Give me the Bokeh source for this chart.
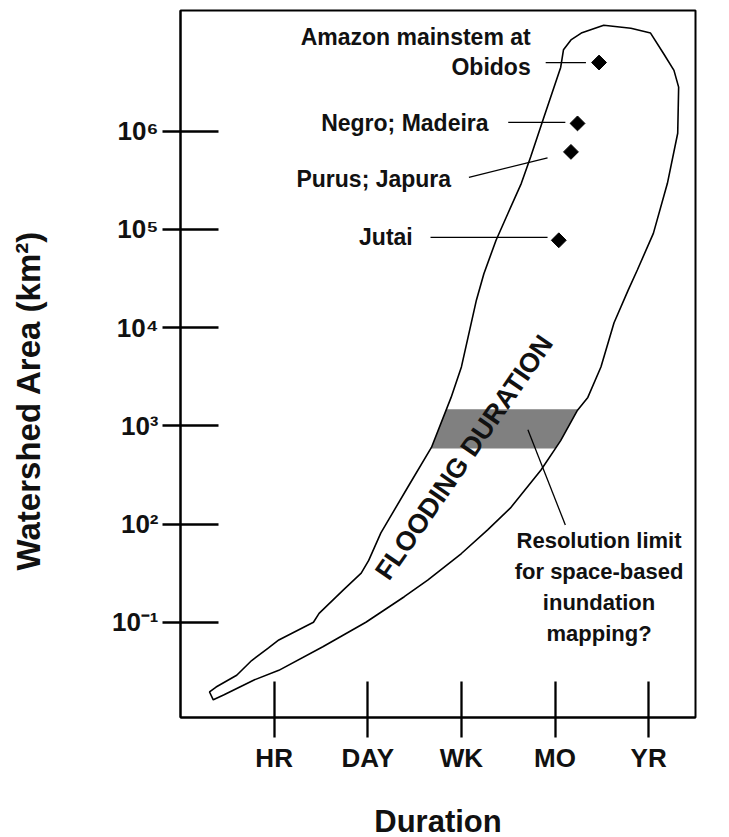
import numpy as np
from bokeh.plotting import figure
from bokeh.layouts import row
from bokeh.models import Range1d, FixedTicker, ColumnDataSource
from bokeh.core.properties import value
from bokeh.embed import file_html
from bokeh.resources import INLINE

# ---- axis categories (duration index, area decade index) ----
duration_ticks = [1, 2, 3, 4, 5]
duration_labels = ["HR", "DAY", "WK", "MO", "YR"]
area_ticks = [1, 2, 3, 4, 5, 6]
area_labels = ["10\u207b\u00b9", "10\u00b2", "10\u00b3", "10\u2074", "10\u2075", "10\u2076"]

# ---- flooding-duration envelope: upper/left edge from tip to cap ----
upper_x = [0.31, 0.38, 0.60, 0.76, 0.94, 1.05, 1.42, 1.48, 1.74, 1.93, 2.01, 2.14,
           2.43, 2.68, 2.89, 3.00, 3.16, 3.24, 3.37, 3.50, 3.64, 3.74, 3.88, 4.06,
           4.09, 4.17, 4.28, 4.52, 4.81, 5.02, 5.16, 5.27]
upper_y = [0.29, 0.34, 0.46, 0.61, 0.74, 0.82, 1.00, 1.09, 1.33, 1.50, 1.63, 1.91,
           2.38, 2.78, 3.29, 3.60, 4.28, 4.55, 4.89, 5.17, 5.47, 5.74, 6.14, 6.65,
           6.83, 6.93, 7.00, 7.08, 7.05, 7.00, 6.79, 6.62]
# lower/right edge from tip to cap
lower_x = [0.35, 0.46, 0.78, 1.05, 1.52, 1.98, 2.39, 2.64, 3.00, 3.28, 3.53, 3.85,
           4.06, 4.24, 4.35, 4.49, 4.63, 4.78, 4.88, 5.05, 5.20, 5.31, 5.32]
lower_y = [0.21, 0.26, 0.41, 0.51, 0.75, 1.00, 1.26, 1.43, 1.70, 1.94, 2.17, 2.55,
           2.85, 3.16, 3.29, 3.60, 4.05, 4.38, 4.59, 4.96, 5.47, 5.98, 6.45]

# resolution-limit band (area index range)
band_area = [2.77, 3.17]

# ---- rivers ----
river_names = ["Amazon mainstem at\nObidos", "Negro; Madeira", "Purus; Japura", "Jutai"]
river_duration = [4.47, 4.24, 4.17, 4.04]
river_area = [6.70, 6.08, 5.79, 4.89]
label_duration = [3.74, 3.29, 2.89, 2.48]
label_area = [6.81, 6.08, 5.51, 4.92]
leader_x0 = [3.90, 3.50, 3.08, 2.67]
leader_y0 = [6.70, 6.09, 5.53, 4.92]
leader_x1 = [4.33, 4.11, 3.92, 3.92]
leader_y1 = [6.70, 6.09, 5.73, 4.92]

res_text = "Resolution limit\nfor space-based\ninundation\nmapping?"
res_label_x, res_label_y = 4.47, 1.36
res_leader_x = [3.71, 4.11]
res_leader_y = [2.96, 1.99]

flood_text = "FLOODING DURATION"
flood_x, flood_y, flood_angle = 3.03, 2.68, 55.3

y_title = "Watershed Area (km\u00b2)"

FONT = "Liberation Sans"
TITLE_W = 48
TOTAL_H = 10 + 707 + 110

p = figure(frame_width=515, frame_height=707, output_backend="svg", toolbar_location=None,
           x_range=Range1d(0, 5.5), y_range=Range1d(0.03, 7.23),
           min_border_left=180 - TITLE_W, min_border_right=20, min_border_top=10,
           min_border_bottom=110)
p.grid.visible = False
p.outline_line_color = "black"
p.outline_line_width = 2
p.background_fill_color = "white"
p.border_fill_color = "white"

# band
ux = np.array(upper_x); uy = np.array(upper_y)
top = int(np.argmax(uy))
ux_m, uy_m = ux[:top + 1], uy[:top + 1]
lx = np.array(lower_x); ly = np.array(lower_y)
lo, hi = band_area


def side(xs, ys):
    inside = (ys > lo) & (ys < hi)
    bx = [float(np.interp(lo, ys, xs))] + list(xs[inside]) + [float(np.interp(hi, ys, xs))]
    by = [lo] + list(ys[inside]) + [hi]
    return bx, by


bxu, byu = side(ux_m, uy_m)
bxl, byl = side(lx, ly)
p.patch(bxu + bxl[::-1], byu + byl[::-1], fill_color="#808080", line_color=None)

# envelope
env_x = list(upper_x) + list(lower_x[::-1])
env_y = list(upper_y) + list(lower_y[::-1])
p.patch(env_x, env_y, fill_alpha=0, line_color="black", line_width=1.6)

# leaders
p.segment(leader_x0, leader_y0, leader_x1, leader_y1, line_color="black", line_width=1.3)
p.line(res_leader_x, res_leader_y, line_color="black", line_width=1.3)

# diamonds
p.scatter(river_duration, river_area, marker="square", angle=np.pi / 4, size=10.5,
          fill_color="black", line_color="black")

# labels
src = ColumnDataSource(dict(x=label_duration, y=label_area, t=river_names))
p.text(x="x", y="y", text="t", source=src, text_align="right", text_baseline="middle",
       text_font=value(FONT), text_font_style="bold", text_font_size="23px",
       text_line_height=1.17, text_color="#111111")
p.text(x=[res_label_x], y=[res_label_y], text=[res_text], text_align="center",
       text_baseline="middle", text_font=value(FONT), text_font_style="bold",
       text_font_size="22px", text_line_height=1.25, text_color="#111111")
p.text(x=[flood_x], y=[flood_y], text=[flood_text], angle=flood_angle, angle_units="deg",
       text_align="center", text_baseline="middle", text_font=value(FONT),
       text_font_style="bold", text_font_size="27px", text_color="#111111")

# axes
for ax in (p.xaxis[0], p.yaxis[0]):
    ax.axis_line_color = "black"
    ax.axis_line_width = 2
    ax.major_tick_line_color = "black"
    ax.major_tick_line_width = 2.3
    ax.minor_tick_line_color = None
    ax.major_label_text_font = FONT
    ax.major_label_text_font_style = "bold"
    ax.major_label_text_font_size = "26px"
    ax.major_label_text_color = "#111111"
    ax.axis_label_text_font = FONT
    ax.axis_label_text_font_style = "bold"
    ax.axis_label_text_color = "#111111"

p.xaxis.ticker = FixedTicker(ticks=duration_ticks)
p.xaxis.major_label_overrides = {t: l for t, l in zip(duration_ticks, duration_labels)}
p.xaxis.major_tick_in = 36
p.xaxis.major_tick_out = 20
p.xaxis.major_label_standoff = 5
p.xaxis.axis_label = "Duration"
p.xaxis.axis_label_text_font_size = "31px"
p.xaxis.axis_label_standoff = 28

p.yaxis.ticker = FixedTicker(ticks=area_ticks)
p.yaxis.major_label_overrides = {t: l for t, l in zip(area_ticks, area_labels)}
p.yaxis.major_tick_in = 38
p.yaxis.major_tick_out = 18
p.yaxis.major_label_standoff = 4

# y-axis title in its own narrow strip (it sits below the frame's centre in the original)
t = figure(frame_width=TITLE_W, frame_height=TOTAL_H, output_backend="svg",
           toolbar_location=None, x_range=Range1d(0, TITLE_W), y_range=Range1d(0, TOTAL_H),
           x_axis_type=None, y_axis_type=None, min_border=0)
t.grid.visible = False
t.outline_line_color = None
t.text(x=[28], y=[TOTAL_H - 390], text=[y_title], angle=90, angle_units="deg",
       text_align="center", text_baseline="middle", text_font=value(FONT),
       text_font_style="bold", text_font_size="33px", text_color="#111111")

layout = row(t, p, spacing=0)
open("out.html", "w").write(file_html(layout, INLINE))
